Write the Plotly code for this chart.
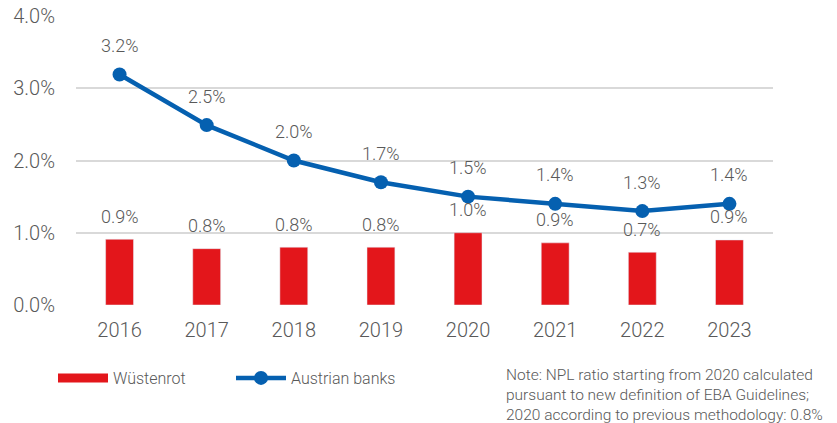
import plotly.graph_objects as go

years = ["2016", "2017", "2018", "2019", "2020", "2021", "2022", "2023"]
wuestenrot = [0.91, 0.78, 0.80, 0.80, 1.00, 0.86, 0.73, 0.90]
wuestenrot_labels = ["0.9%", "0.8%", "0.8%", "0.8%", "1.0%", "0.9%", "0.7%", "0.9%"]
austrian_banks = [3.19, 2.49, 2.00, 1.70, 1.50, 1.40, 1.30, 1.40]
austrian_labels = ["3.2%", "2.5%", "2.0%", "1.7%", "1.5%", "1.4%", "1.3%", "1.4%"]
y_ticks = [0, 1, 2, 3, 4]
y_tick_labels = ["0.0%", "1.0%", "2.0%", "3.0%", "4.0%"]
note = ("Note: NPL ratio starting from 2020 calculated<br>"
        "pursuant to new definition of EBA Guidelines;<br>"
        "2020 according to previous methodology: 0.8%")

RED = "#e3161b"
BLUE = "#0560b0"
GREY = "#595959"
FONT = "Roboto"

fig = go.Figure()
fig.add_trace(go.Bar(x=years, y=wuestenrot, marker_color=RED, width=0.32,
                     showlegend=False, name="Wüstenrot", hoverinfo="skip"))
fig.add_trace(go.Scatter(x=[None], y=[None], mode="lines", name="Wüstenrot",
                         line=dict(color=RED, width=9)))
fig.add_trace(go.Scatter(x=years, y=austrian_banks, mode="lines+markers",
                         name="Austrian banks",
                         line=dict(color=BLUE, width=4.5),
                         marker=dict(size=14, color=BLUE)))

for i, (v, t) in enumerate(zip(wuestenrot, wuestenrot_labels)):
    fig.add_annotation(x=i, y=v, text=t, showarrow=False, yshift=23,
                       yanchor="middle", font=dict(size=18, color=GREY, family=FONT, weight=300))
for i, (v, t) in enumerate(zip(austrian_banks, austrian_labels)):
    fig.add_annotation(x=i, y=v, text=t, showarrow=False, yshift=29,
                       yanchor="middle", font=dict(size=18, color=GREY, family=FONT, weight=300))

fig.add_annotation(xref="paper", yref="paper", x=0.614, y=-0.203, xanchor="left",
                   yanchor="top", align="left", text=note, showarrow=False,
                   font=dict(size=15.5, color=GREY, family=FONT, weight=300))

fig.update_layout(
    width=837, height=423,
    margin=dict(l=76, r=64, t=16, b=118, autoexpand=False),
    plot_bgcolor="white", paper_bgcolor="white",
    font=dict(family=FONT, color=GREY, weight=300),
    xaxis=dict(type="category", range=[-0.5, 7.5], showgrid=False, zeroline=False,
               showline=False, ticks="", ticklabelstandoff=11,
               tickfont=dict(size=20, color=GREY, family=FONT, weight=300)),
    yaxis=dict(range=[0, 4], tickvals=y_ticks, ticktext=y_tick_labels,
               showgrid=True, gridcolor="#d9d9d9", gridwidth=1.5, zeroline=False,
               showline=False, ticks="", ticklabelstandoff=20,
               tickfont=dict(size=20, color=GREY, family=FONT, weight=300)),
    legend=dict(orientation="h", x=-0.033, xanchor="left", y=-0.2526, yanchor="middle",
                itemwidth=50, entrywidth=113, entrywidthmode="pixels",
                font=dict(size=16, color=GREY, family=FONT, weight=300),
                bgcolor="rgba(0,0,0,0)", traceorder="normal"),
    showlegend=True,
)

fig.write_html("out.html", config={"displayModeBar": False},
               post_script="document.body.style.margin='0';document.body.style.padding='0';")
